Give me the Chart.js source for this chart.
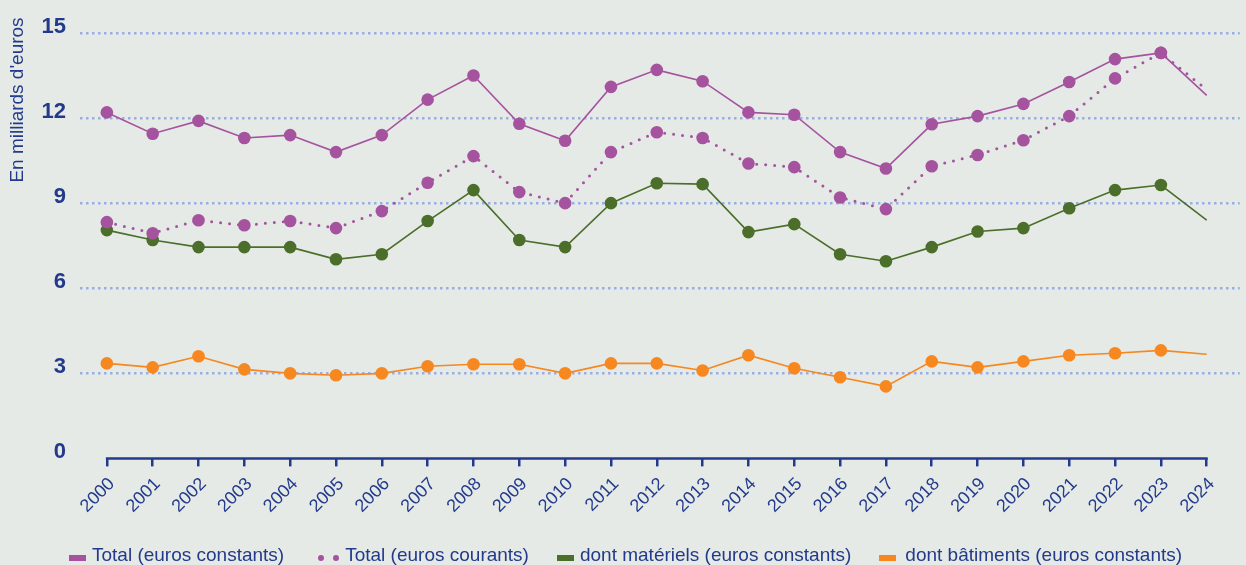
<!DOCTYPE html>
<html>
<head>
<meta charset="utf-8">
<script src="https://cdn.jsdelivr.net/npm/chart.js@4.4.1/dist/chart.umd.min.js"></script>
<style>
  html, body { margin: 0; padding: 0; background: #e5eae6; }
  #wrap { position: relative; width: 1246px; height: 565px; background: #e5eae6; overflow: hidden; }
  #legend { position: absolute; left: 69px; top: 544px; display: flex; align-items: center;
            font-family: "Liberation Sans", Arial, sans-serif; font-size: 19px; color: #233a8c; white-space: nowrap; }
  .item { display: flex; align-items: center; }
  .box { width: 17px; height: 6px; margin-right: 6px; margin-top: 5px; }
  .dots { display: flex; margin-right: 6px; margin-top: 5px; }
  .dots span { width: 6px; height: 6px; border-radius: 50%; background: #a5539f; margin-right: 9px; }
  .dots span:last-child { margin-right: 0; }
</style>
</head>
<body>
<div id="wrap">
  <canvas id="invChart"></canvas>
  <div id="legend">
    <div class="item" style="margin-right:34px"><div class="box" style="background:#a5539f"></div>Total (euros constants)</div>
    <div class="item" style="margin-right:28px"><div class="dots"><span></span><span></span></div>Total (euros courants)</div>
    <div class="item" style="margin-right:28px"><div class="box" style="background:#4b6f2a"></div>dont matériels (euros constants)</div>
    <div class="item"><div class="box" style="background:#f7871f;margin-right:9px"></div>dont bâtiments (euros constants)</div>
  </div>
</div>
<script>
const years = [2000, 2001, 2002, 2003, 2004, 2005, 2006, 2007, 2008, 2009, 2010, 2011, 2012,
               2013, 2014, 2015, 2016, 2017, 2018, 2019, 2020, 2021, 2022, 2023, 2024];

const totalConstants = [12.2, 11.45, 11.9, 11.3, 11.4, 10.8, 11.4, 12.65, 13.5, 11.8, 11.2, 13.1, 13.7,
                        13.3, 12.2, 12.12, 10.8, 10.22, 11.78, 12.07, 12.5, 13.27, 14.08, 14.3, 12.8];
const totalCourants = [8.33, 7.94, 8.4, 8.22, 8.37, 8.12, 8.72, 9.72, 10.66, 9.39, 9.0, 10.8, 11.5,
                       11.3, 10.4, 10.27, 9.2, 8.79, 10.3, 10.7, 11.22, 12.07, 13.4, 14.3, 13.0];
const materiels = [8.05, 7.7, 7.45, 7.45, 7.45, 7.02, 7.2, 8.37, 9.46, 7.7, 7.45, 9.0, 9.7,
                   9.67, 7.98, 8.26, 7.2, 6.95, 7.45, 8.0, 8.12, 8.82, 9.46, 9.64, 8.4];
const batiments = [3.35, 3.21, 3.6, 3.14, 3.0, 2.93, 3.0, 3.25, 3.32, 3.32, 3.0, 3.35, 3.35,
                   3.1, 3.64, 3.18, 2.86, 2.54, 3.42, 3.21, 3.42, 3.64, 3.71, 3.81, 3.67];

const yTicks = [0, 3, 6, 9, 12, 15];
const yTitle = "En milliards d'euros";

const BLUE = '#233a8c';
const FONT = '"Liberation Sans", Arial, sans-serif';

function pts(values) {
    return years.map((y, i) => ({ x: y, y: values[i] }));
}

// no marker on the last year (provisional value)
const radii = years.map((y, i) => i === years.length - 1 ? 0 : 6.3);

function series(label, values, color, extra) {
    return Object.assign({
        label: label,
        data: pts(values),
        borderColor: color,
        backgroundColor: color,
        pointBackgroundColor: color,
        pointBorderWidth: 0,
        pointRadius: radii,
        pointHoverRadius: radii,
        borderWidth: 1.6,
        tension: 0,
        fill: false
    }, extra || {});
}

// axis line from first to last year + rotated y title
const decor = {
    id: 'decor',
    afterDraw(chart) {
        const { ctx, scales: { x, y } } = chart;
        ctx.save();
        ctx.strokeStyle = BLUE;
        ctx.lineWidth = 2.5;
        ctx.beginPath();
        ctx.moveTo(x.getPixelForValue(years[0]) - 1, y.getPixelForValue(0));
        ctx.lineTo(x.getPixelForValue(years[years.length - 1]) + 1, y.getPixelForValue(0));
        ctx.stroke();

        ctx.translate(18, 100);
        ctx.rotate(-Math.PI / 2);
        ctx.fillStyle = BLUE;
        ctx.font = '19px ' + FONT;
        ctx.textAlign = 'center';
        ctx.textBaseline = 'middle';
        ctx.fillText(yTitle, 0, 0);
        ctx.restore();
    }
};

const ctx = document.getElementById('invChart').getContext('2d');
new Chart(ctx, {
    type: 'line',
    data: {
        datasets: [
            series('Total (euros constants)', totalConstants, '#a5539f'),
            series('Total (euros courants)', totalCourants, '#a5539f', {
                borderDash: [0, 9], borderWidth: 3, borderCapStyle: 'round'
            }),
            series('dont matériels (euros constants)', materiels, '#4b6f2a'),
            series('dont bâtiments (euros constants)', batiments, '#f7871f')
        ]
    },
    options: {
        responsive: true,
        maintainAspectRatio: false,
        animation: false,
        layout: { padding: { top: 33, bottom: 41, left: 0, right: 0 } },
        plugins: { legend: { display: false }, tooltip: { enabled: false } },
        scales: {
            x: {
                type: 'linear',
                min: 1999.414,
                max: 2024.72,
                afterBuildTicks: s => { s.ticks = years.map(v => ({ value: v })); },
                grid: { drawOnChartArea: false, drawTicks: true, tickLength: 8, color: BLUE, lineWidth: 2.5 },
                border: { display: false },
                ticks: {
                    color: BLUE,
                    font: { family: FONT, size: 18 },
                    maxRotation: 45, minRotation: 45,
                    autoSkip: false,
                    padding: 7,
                    labelOffset: 5,
                    callback: v => String(v)
                }
            },
            y: {
                min: 0,
                max: 15,
                afterBuildTicks: s => { s.ticks = yTicks.map(v => ({ value: v })); },
                afterFit: s => { s.width = 80; },
                grid: {
                    drawTicks: false,
                    color: c => c.tick && c.tick.value === 0 ? 'rgba(0,0,0,0)' : '#9aaee4',
                    lineWidth: 2.5
                },
                border: { display: false, dash: [2.5, 3.5] },
                ticks: {
                    color: BLUE,
                    font: { family: FONT, size: 22, weight: 'bold' },
                    padding: 14,
                    labelOffset: -6
                }
            }
        }
    },
    plugins: [decor]
});
</script>
</body>
</html>
